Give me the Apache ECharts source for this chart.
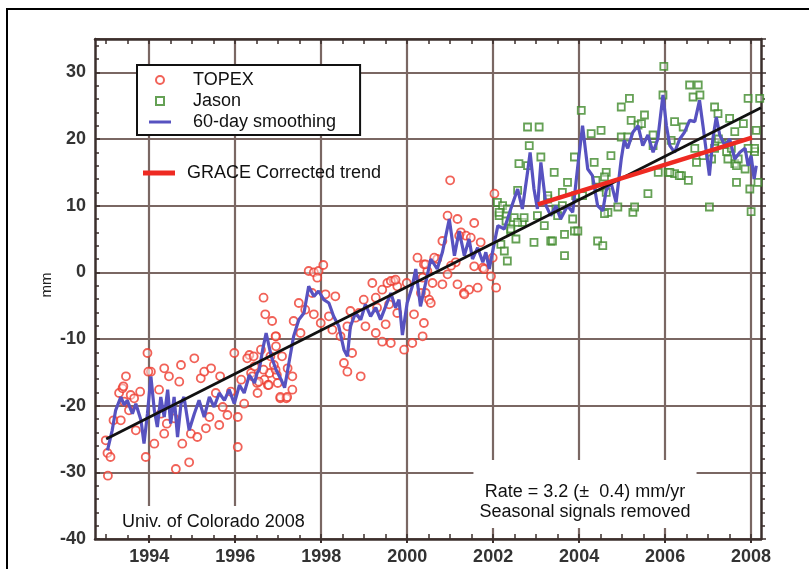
<!DOCTYPE html>
<html><head><meta charset="utf-8">
<script src="https://cdn.jsdelivr.net/npm/echarts@6/dist/echarts.min.js"></script>
<style>html,body{margin:0;padding:0;background:#fff}#c{width:809px;height:569px}</style>
</head><body><div id="c"></div>
<script>
const yearTicks = [1994, 1996, 1998, 2000, 2002, 2004, 2006, 2008];
const halfYearTicks = [1993, 1993.5, 1994, 1994.5, 1995, 1995.5, 1996, 1996.5, 1997, 1997.5, 1998, 1998.5, 1999, 1999.5, 2000, 2000.5, 2001, 2001.5, 2002, 2002.5, 2003, 2003.5, 2004, 2004.5, 2005, 2005.5, 2006, 2006.5, 2007, 2007.5, 2008];

const topex = [
[1992.99,-25.2],[1993.03,-27.1],[1993.10,-27.7],[1993.04,-30.5],[1993.17,-22.2],[1993.30,-18.1],[1993.38,-17.4],[1993.46,-15.6],
[1993.42,-19.4],[1993.34,-22.2],[1993.53,-20.7],[1993.57,-18.4],[1993.65,-18.9],[1993.79,-17.9],[1993.69,-23.7],[1993.92,-27.7],
[1993.96,-12.1],[1994.04,-14.9],[1994.12,-25.7],[1994.23,-17.6],[1994.27,-21.2],[1994.35,-24.2],[1994.35,-14.4],[1994.46,-15.6],
[1994.41,-22.7],[1994.58,-21.9],[1994.62,-29.5],[1994.70,-16.4],[1994.74,-13.9],[1994.77,-25.7],[1994.93,-28.5],[1994.97,-24.2],
[1995.05,-12.9],[1995.12,-24.7],[1995.20,-15.9],[1995.28,-14.9],[1995.32,-23.4],[1995.44,-14.4],[1995.40,-21.7],[1995.55,-18.1],
[1995.63,-22.9],[1995.71,-20.2],[1995.82,-21.4],[1995.90,-17.9],[1995.98,-12.1],[1996.06,-26.2],[1996.06,-21.7],[1996.14,-16.1],
[1996.21,-19.7],[1996.33,-12.4],[1996.37,-15.1],[1996.45,-14.1],[1996.52,-18.1],[1996.60,-11.6],[1996.68,-16.1],[1996.76,-16.9],
[1996.80,-15.1],[1996.95,-9.6],[1996.95,-11.1],[1996.99,-16.6],[1997.05,-18.9],[1997.19,-18.9],[1997.22,-14.4],
[1993.40,-17.1],[1993.98,-14.9],[1995.65,-15.6],[1996.28,-12.9],[1996.40,-15.6],[1996.51,-16.6],[1996.66,-14.6],[1996.97,-15.4],
[1997.33,-17.6],[1996.82,-12.6],[1996.94,-14.6],
[1996.66,-3.8],[1996.70,-6.3],[1996.86,-7.3],[1996.94,-9.6],[1997.09,-12.6],[1996.90,-13.9],[1996.43,-12.6],[1996.55,-16.4],
[1996.78,-16.9],[1997.05,-18.7],[1997.21,-18.7],[1997.33,-15.6],[1997.36,-7.3],[1997.48,-4.6],[1997.52,-9.1],[1997.63,-5.6],
[1997.71,0.2],[1997.83,0.0],[1997.94,0.2],[1997.91,-0.8],[1998.05,1.1],[1997.79,-3.1],[1997.83,-6.3],[1997.99,-7.6],
[1998.10,-3.3],[1998.18,-6.6],[1998.33,-3.6],[1998.26,-8.6],[1998.45,-9.6],[1998.53,-13.6],[1998.61,-14.9],[1998.92,-15.6],
[1998.68,-5.8],[1998.80,-6.8],[1998.99,-4.1],[1999.03,-8.1],[1999.19,-1.6],[1999.27,-3.8],[1999.27,-9.1],[1999.42,-10.4],
[1999.42,-2.6],[1999.54,-1.6],[1999.50,-7.8],[1999.58,-4.8],[1999.69,-1.3],[1999.77,-2.1],[1999.77,-6.1],[1999.93,-11.6],
[2000.12,-10.6],[2000.16,-6.3],[2000.24,2.2],[2000.36,-9.6],[2000.39,-7.6],[2000.43,-3.1],
[1998.61,-8.1],[1998.72,-12.1],[1999.62,-10.6],[1998.88,-6.1],[1999.30,-5.3],[1999.62,-1.3],[1999.73,-1.1],
[2000.94,8.5],[2001.17,8.0],[2001.56,7.4],[2001.25,6.0],[2001.37,5.5],[2001.48,5.2],[2001.71,4.5],[2000.82,4.7],
[2000.70,2.0],[2000.47,0.2],[2000.39,1.2],[2001.13,1.5],[2000.94,-0.3],[2001.17,-1.8],[2001.32,-3.1],[2001.44,-2.6],
[2001.64,-2.3],[2000.82,-1.8],[2001.56,0.9],[2001.76,0.7],[2001.95,-0.6],[2002.07,-2.3],[2001.99,2.2],[2000.59,-1.6],
[2000.51,-4.1],[2001.00,13.8],[2002.03,11.8],[2000.63,2.2],[2001.33,-3.3],[2001.21,5.5],[2001.79,0.5],[1999.99,-1.6],
[2000.36,-0.8],[2000.43,1.2],[2001.02,1.0],[2000.32,-3.1],[2000.55,-4.6]
];

const jason = [
[2002.10,10.5],[2002.22,10.0],[2002.33,9.5],[2002.14,8.5],[2002.30,7.7],[2002.18,4.2],[2002.26,3.2],[2002.33,1.7],
[2002.41,6.2],[2002.53,5.0],[2002.49,8.2],[2002.60,16.3],[2002.80,16.0],[2002.57,12.3],[2002.68,7.5],[2002.95,4.5],
[2003.03,8.5],[2003.19,7.0],[2003.34,4.7],[2003.42,15.0],[2003.27,11.0],[2003.46,9.5],[2003.50,8.5],[2003.66,5.7],
[2003.66,2.5],[2003.89,6.2],[2003.85,8.0],[2002.80,21.8],[2003.07,21.8],[2002.84,19.0],[2003.11,17.3],[2003.38,4.7],
[2003.97,6.2],[2004.05,24.3],[2004.28,20.8],[2004.51,21.3],[2003.89,17.3],[2004.35,16.5],[2004.74,17.5],[2004.63,15.0],
[2004.43,4.7],[2004.55,4.0],[2004.90,9.8],[2005.25,9.0],[2005.29,9.8],[2005.60,11.8],[2004.98,24.8],[2005.17,26.1],
[2005.21,22.8],[2005.52,23.6],[2005.37,22.1],[2004.98,20.3],[2005.13,20.3],[2005.72,20.6],[2006.22,22.6],[2005.97,30.9],
[2005.95,26.6],[2006.07,15.0],[2006.22,14.8],[2006.38,14.5],[2006.54,13.8],[2006.57,28.1],[2006.77,28.1],[2006.65,26.3],
[2006.81,26.6],[2006.69,18.6],[2006.88,17.5],[2007.08,17.0],[2007.15,24.8],[2007.23,23.8],[2007.50,23.1],[2007.62,21.1],
[2007.03,9.8],[2007.66,13.5],[2007.86,15.5],[2007.93,26.1],[2008.00,9.1],[2007.97,12.5],[2008.20,26.1],[2008.16,13.5],
[2008.08,18.1],[2007.62,16.3],[2007.32,19.3],
[2004.59,14.3],[2004.47,12.8],[2003.73,13.5],[2003.92,11.5],[2003.61,10.0],[2004.67,9.0],[2004.59,8.8],[2005.45,22.3],
[2005.72,19.0],[2005.84,15.0],[2006.11,15.0],[2006.14,19.8],[2006.33,14.5],[2006.42,21.8],[2006.73,16.5],[2007.24,20.0],
[2007.43,18.1],[2007.54,18.6],[2007.66,16.0],[2007.82,22.3],[2008.08,18.6],[2008.12,21.3],
[2002.14,9.0],[2002.57,7.5],[2002.41,6.5],[2002.72,8.2],[2003.27,11.5],[2003.61,12.0],[2004.08,11.5],[2004.39,13.8],
[2004.63,12.0],[2007.15,18.6],[2007.46,17.0],[2007.70,17.0],[2007.93,18.6]
];

const smoothing = [
[1993.03,-26.7],[1993.14,-23.7],[1993.22,-20.7],[1993.34,-18.7],[1993.42,-19.9],[1993.49,-19.2],[1993.61,-21.2],[1993.69,-19.7],
[1993.81,-22.2],[1993.88,-25.7],[1993.96,-21.2],[1994.04,-15.6],[1994.12,-20.7],[1994.19,-23.2],[1994.27,-18.7],[1994.35,-21.7],
[1994.43,-17.6],[1994.50,-22.7],[1994.58,-18.7],[1994.66,-24.7],[1994.74,-19.7],[1994.81,-18.7],[1994.93,-23.7],[1995.05,-21.2],
[1995.16,-19.2],[1995.28,-21.7],[1995.40,-18.7],[1995.51,-20.2],[1995.63,-18.1],[1995.75,-19.2],[1995.86,-17.6],[1995.98,-19.7],
[1996.10,-16.9],[1996.21,-18.1],[1996.33,-15.4],[1996.45,-16.6],[1996.51,-15.1],[1996.56,-14.6],[1996.64,-11.6],[1996.72,-9.1],
[1996.84,-12.6],[1996.95,-14.6],[1997.07,-16.1],[1997.15,-17.3],[1997.25,-13.6],[1997.36,-9.6],[1997.48,-7.1],[1997.60,-6.1],
[1997.71,-2.1],[1997.83,-3.6],[1997.94,-2.8],[1998.06,-4.1],[1998.18,-4.6],[1998.29,-6.6],[1998.41,-8.1],[1998.53,-11.6],
[1998.61,-12.6],[1998.68,-8.1],[1998.80,-6.1],[1998.92,-7.1],[1999.03,-4.8],[1999.15,-6.6],[1999.27,-5.3],[1999.38,-7.1],
[1999.50,-5.1],[1999.62,-3.1],[1999.73,-5.3],[1999.81,-4.1],[1999.89,-9.4],[2000.00,-4.6],[2000.12,-2.1],[2000.20,0.5],
[2000.31,-5.1],[2000.43,-1.6],[2000.55,2.0],[2000.70,0.5],[2000.82,3.0],[2000.98,8.0],[2001.10,2.5],[2001.21,6.2],
[2001.33,2.5],[2001.44,5.0],[2001.52,2.0],[2001.64,3.7],[2001.76,1.5],[2001.83,3.0],[2001.91,0.5],[2002.03,4.5],
[2002.11,7.0],[2002.26,6.5],[2002.41,9.5],[2002.57,12.5],[2002.68,9.5],[2002.80,15.0],[2002.86,18.0],[2002.95,12.5],
[2003.03,9.5],[2003.11,16.5],[2003.23,10.0],[2003.34,8.5],[2003.46,10.0],[2003.57,8.0],[2003.73,10.0],[2003.85,9.0],
[2003.97,16.0],[2004.08,22.0],[2004.20,15.5],[2004.31,14.5],[2004.43,10.0],[2004.55,9.2],[2004.63,12.3],[2004.74,13.5],
[2004.86,10.5],[2004.98,17.0],[2005.05,19.8],[2005.13,18.6],[2005.25,21.0],[2005.37,22.0],[2005.48,19.0],[2005.60,20.6],
[2005.72,18.0],[2005.83,20.0],[2005.95,26.6],[2006.03,22.0],[2006.11,19.0],[2006.22,18.0],[2006.34,20.0],[2006.45,21.0],
[2006.57,22.8],[2006.69,22.6],[2006.80,25.8],[2006.88,22.0],[2006.96,18.0],[2007.03,14.5],[2007.11,20.0],[2007.19,23.3],
[2007.27,20.6],[2007.39,19.0],[2007.50,20.0],[2007.62,17.0],[2007.74,18.0],[2007.86,18.6],[2007.93,16.0],[2008.00,17.5],
[2008.07,14.0],[2008.12,16.0]
];

const linearTrend = [[1993.0,-25.0],[2008.23,24.7]];
const graceTrend = [[2003.04,10.2],[2008.02,20.2]];

const FONT = 'Liberation Sans, Arial, Helvetica, sans-serif';
const AXIS_C = '#3b2f2d';
const GRID_C = '#7a6763';

const chart = echarts.init(document.getElementById('c'), null, {renderer: 'canvas'});
const option = {
  animation: false,
  backgroundColor: '#fff',
  grid: {left: 95, right: 48, top: 39, bottom: 30, containLabel: false},
  xAxis: [
    {
      type: 'value', min: 1992.74, max: 2008.23, position: 'bottom',
      axisLine: {show: true, onZero: false, lineStyle: {color: AXIS_C, width: 2.5}},
      axisTick: {show: true, customValues: yearTicks, length: 4, lineStyle: {color: AXIS_C, width: 2}},
      axisLabel: {show: true, customValues: yearTicks, formatter: v => String(Math.round(v)),
        fontFamily: FONT, fontSize: 18, fontWeight: 'bold', color: '#333', margin: 9},
      splitLine: {show: true, lineStyle: {color: GRID_C, width: 2.2}}
    },
    {
      type: 'value', min: 1992.74, max: 2008.23, position: 'bottom',
      axisLine: {show: false, onZero: false}, axisLabel: {show: false}, splitLine: {show: false},
      axisTick: {show: true, inside: true, customValues: halfYearTicks, length: 5, lineStyle: {color: AXIS_C, width: 1.5}}
    },
    {
      type: 'value', min: 1992.74, max: 2008.23, position: 'top',
      axisLine: {show: true, onZero: false, lineStyle: {color: AXIS_C, width: 2.5}},
      axisLabel: {show: false}, splitLine: {show: false},
      axisTick: {show: true, inside: true, customValues: halfYearTicks, length: 5, lineStyle: {color: AXIS_C, width: 1.5}}
    }
  ],
  yAxis: [
    {
      type: 'value', min: -40, max: 35, interval: 10, position: 'left',
      axisLine: {show: true, onZero: false, lineStyle: {color: AXIS_C, width: 2.5}},
      axisTick: {show: true, inside: true, length: 5, lineStyle: {color: AXIS_C, width: 1.5}},
      minorTick: {show: true, splitNumber: 5, length: 4, lineStyle: {color: AXIS_C, width: 1.5}},
      axisLabel: {show: true, showMaxLabel: false, fontFamily: FONT, fontSize: 18, fontWeight: 'bold', color: '#333', margin: 9},
      splitLine: {show: true, lineStyle: {color: GRID_C, width: 2.2}}
    },
    {
      type: 'value', min: -40, max: 35, interval: 10, position: 'right',
      axisLine: {show: true, onZero: false, lineStyle: {color: AXIS_C, width: 2.5}},
      axisTick: {show: true, inside: false, length: 5, lineStyle: {color: AXIS_C, width: 1.5}},
      minorTick: {show: true, splitNumber: 5, length: 4, lineStyle: {color: AXIS_C, width: 1.5}},
      axisLabel: {show: false}, splitLine: {show: false}
    }
  ],
  legend: [
    {
      data: [
        {name: 'TOPEX'},
        {name: 'Jason', icon: 'path://M0,0L10,0L10,10L0,10Z'},
        {name: '60-day smoothing', icon: 'path://M0,0L22,0L22,3L0,3Z'}
      ],
      orient: 'vertical', left: 137, top: 65,
      backgroundColor: '#fff', borderColor: '#111', borderWidth: 2,
      padding: [6, 24, 4, 12], itemGap: 3, itemWidth: 22, itemHeight: 8,
      textStyle: {fontFamily: FONT, fontSize: 18, color: '#111', padding: [0, 0, 0, 17]},
      selectedMode: false
    },
    {
      data: [{name: 'GRACE Corrected trend', icon: 'path://M0,0L32,0L32,5L0,5Z'}],
      orient: 'vertical', left: 143, top: 164,
      padding: 0, itemWidth: 32, itemHeight: 8,
      textStyle: {fontFamily: FONT, fontSize: 18, color: '#111', padding: [0, 0, 0, 7]},
      selectedMode: false
    }
  ],
  series: [
    {
      name: 'TOPEX', type: 'scatter', data: topex, symbol: 'circle', symbolSize: 8,
      itemStyle: {color: 'rgba(255,255,255,0.55)', borderColor: '#ee3b2e', borderWidth: 1.8}
    },
    {
      name: 'Jason', type: 'scatter', data: jason, symbol: 'rect', symbolSize: 7,
      itemStyle: {color: 'rgba(255,255,255,0.55)', borderColor: '#3f8a2a', borderWidth: 1.8}
    },
    {
      name: '60-day smoothing', type: 'line', data: smoothing, symbol: 'none',
      lineStyle: {color: '#5752c0', width: 3.2}, itemStyle: {color: '#5752c0'}
    },
    {
      name: 'linear', type: 'line', data: linearTrend, symbol: 'none',
      lineStyle: {color: '#111', width: 2.8}, itemStyle: {color: '#111'}
    },
    {
      name: 'GRACE Corrected trend', type: 'line', data: graceTrend, symbol: 'none',
      lineStyle: {color: '#ee2a22', width: 4.5}, itemStyle: {color: '#ee2a22'}
    }
  ],
  graphic: [
    {type: 'rect', z: 100, silent: true, shape: {x: 7, y: 9, width: 900, height: 700},
      style: {fill: 'none', stroke: '#000', lineWidth: 2}},
    {type: 'text', z: 50, silent: true, x: 47, y: 285, rotation: Math.PI / 2,
      style: {text: 'mm', font: '15px ' + FONT, fill: '#222', align: 'center', verticalAlign: 'middle'}},
    {type: 'text', z: 50, silent: true, x: 112, y: 506,
      style: {text: 'Univ. of Colorado 2008', font: '18px ' + FONT, fill: '#111', lineHeight: 20,
        backgroundColor: '#fff', padding: [6, 10, 3, 10]}},
    {type: 'text', z: 50, silent: true, x: 585, y: 460,
      style: {text: 'Rate = 3.2 (\u00b1  0.4) mm/yr\nSeasonal signals removed', font: '18px ' + FONT,
        fill: '#111', lineHeight: 20, align: 'center',
        backgroundColor: '#fff', padding: [22, 6, 6, 6]}}
  ]
};
chart.setOption(option);
</script>
</body></html>
